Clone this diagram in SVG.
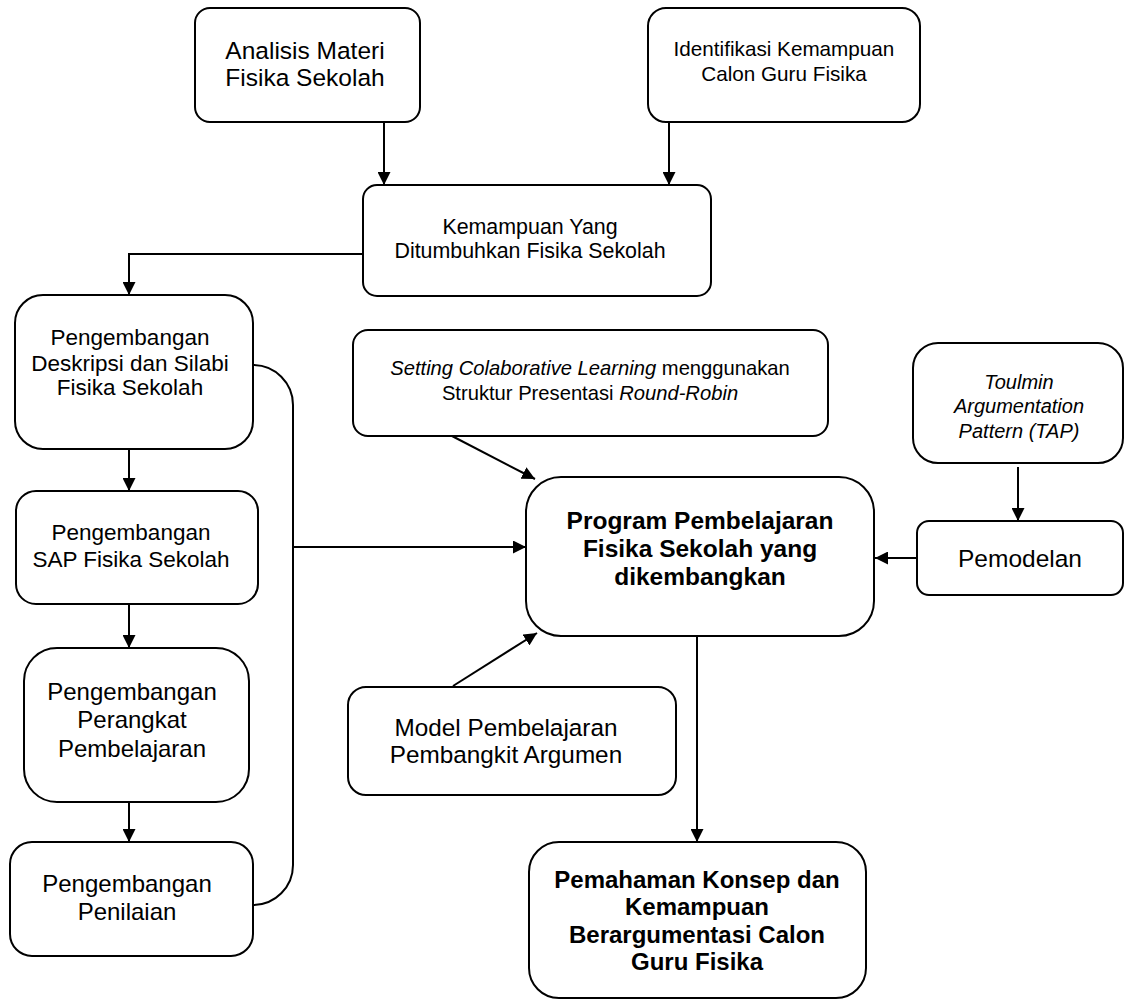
<svg xmlns="http://www.w3.org/2000/svg" width="1126" height="1003" viewBox="0 0 1126 1003">
<style>
.box{fill:#fff;stroke:#000;stroke-width:2}
.t{font-family:"Liberation Sans",Arial,sans-serif;text-anchor:middle;fill:#000}
.b{font-weight:bold}
.i{font-style:italic}
.c{fill:none;stroke:#000;stroke-width:2}
</style>
<defs>
<marker id="ah" markerUnits="userSpaceOnUse" markerWidth="13" markerHeight="13" viewBox="0 0 13 13" refX="13" refY="6.5" orient="auto">
<path d="M0,0 L13,6.5 L0,13 z" fill="#000"/>
</marker>
</defs>
<rect width="1126" height="1003" fill="#fff"/>
<g id="connectors">
<path class="c" d="M384,122 V185" marker-end="url(#ah)"/>
<path class="c" d="M669,122 V185" marker-end="url(#ah)"/>
<path class="c" d="M363,254 H129 V295" marker-end="url(#ah)"/>
<path class="c" d="M129,449 V491" marker-end="url(#ah)"/>
<path class="c" d="M129,604 V648" marker-end="url(#ah)"/>
<path class="c" d="M129,802 V842" marker-end="url(#ah)"/>
<path class="c" d="M253,365 A40,40 0 0 1 293,405 V865 A40,40 0 0 1 253,905"/>
<path class="c" d="M293,547 H526" marker-end="url(#ah)"/>
<path class="c" d="M452,436 L535,479" marker-end="url(#ah)"/>
<path class="c" d="M453,686 L537,633" marker-end="url(#ah)"/>
<path class="c" d="M916,558 H875" marker-end="url(#ah)"/>
<path class="c" d="M1018,467 V521" marker-end="url(#ah)"/>
<path class="c" d="M697,636 V842" marker-end="url(#ah)"/>
</g>
<g id="analisis">
<rect class="box" x="195" y="8" width="225" height="114" rx="15"/>
<text class="t" font-size="24.5" x="305" y="59">Analisis Materi</text>
<text class="t" font-size="24.5" x="305" y="86">Fisika Sekolah</text>
</g>
<g id="identifikasi">
<rect class="box" x="648" y="8" width="272" height="114" rx="18"/>
<text class="t" font-size="20.7" x="784" y="56">Identifikasi Kemampuan</text>
<text class="t" font-size="20.7" x="784" y="81">Calon Guru Fisika</text>
</g>
<g id="kemampuan">
<rect class="box" x="363" y="185" width="348" height="111" rx="14"/>
<text class="t" font-size="21.4" x="530" y="234">Kemampuan Yang</text>
<text class="t" font-size="21.4" x="530" y="258">Ditumbuhkan Fisika Sekolah</text>
</g>
<g id="deskripsi">
<rect class="box" x="15" y="295" width="238" height="154" rx="28"/>
<text class="t" font-size="22.5" x="130" y="345">Pengembangan</text>
<text class="t" font-size="22.5" x="130" y="371">Deskripsi dan Silabi</text>
<text class="t" font-size="22.5" x="130" y="395">Fisika Sekolah</text>
</g>
<g id="sap">
<rect class="box" x="16" y="491" width="242" height="113" rx="20"/>
<text class="t" font-size="22.5" x="131" y="540">Pengembangan</text>
<text class="t" font-size="22.5" x="131" y="567">SAP Fisika Sekolah</text>
</g>
<g id="perangkat">
<rect class="box" x="24" y="648" width="225" height="154" rx="33"/>
<text class="t" font-size="24" x="132" y="700">Pengembangan</text>
<text class="t" font-size="24" x="132" y="728">Perangkat</text>
<text class="t" font-size="24" x="132" y="757">Pembelajaran</text>
</g>
<g id="penilaian">
<rect class="box" x="10" y="842" width="243" height="114" rx="22"/>
<text class="t" font-size="24" x="127" y="892">Pengembangan</text>
<text class="t" font-size="24" x="127" y="920">Penilaian</text>
</g>
<g id="setting">
<rect class="box" x="353" y="330" width="475" height="106" rx="15"/>
<text class="t" font-size="20.2" x="590" y="375"><tspan class="i">Setting Colaborative Learning</tspan> menggunakan</text>
<text class="t" font-size="20.2" x="590" y="400">Struktur Presentasi <tspan class="i">Round-Robin</tspan></text>
</g>
<g id="toulmin">
<rect class="box" x="913" y="343" width="210" height="120" rx="25"/>
<text class="t i" font-size="20" x="1019" y="389">Toulmin</text>
<text class="t i" font-size="20" x="1019" y="413">Argumentation</text>
<text class="t i" font-size="20" x="1019" y="438">Pattern (TAP)</text>
</g>
<g id="pemodelan">
<rect class="box" x="917" y="521" width="206" height="74" rx="12"/>
<text class="t" font-size="24.5" x="1020" y="567">Pemodelan</text>
</g>
<g id="program">
<rect class="box" x="526" y="477" width="348" height="159" rx="35"/>
<text class="t b" font-size="24.5" x="700" y="529">Program Pembelajaran</text>
<text class="t b" font-size="24.5" x="700" y="557">Fisika Sekolah yang</text>
<text class="t b" font-size="24.5" x="700" y="585">dikembangkan</text>
</g>
<g id="model">
<rect class="box" x="348" y="687" width="328" height="108" rx="18"/>
<text class="t" font-size="24.3" x="506" y="736">Model Pembelajaran</text>
<text class="t" font-size="24.3" x="506" y="763">Pembangkit Argumen</text>
</g>
<g id="pemahaman">
<rect class="box" x="529" y="842" width="337" height="156" rx="30"/>
<text class="t b" font-size="24" x="697" y="888">Pemahaman Konsep dan</text>
<text class="t b" font-size="24" x="697" y="915">Kemampuan</text>
<text class="t b" font-size="24" x="697" y="943">Berargumentasi Calon</text>
<text class="t b" font-size="24" x="697" y="970">Guru Fisika</text>
</g>
</svg>
